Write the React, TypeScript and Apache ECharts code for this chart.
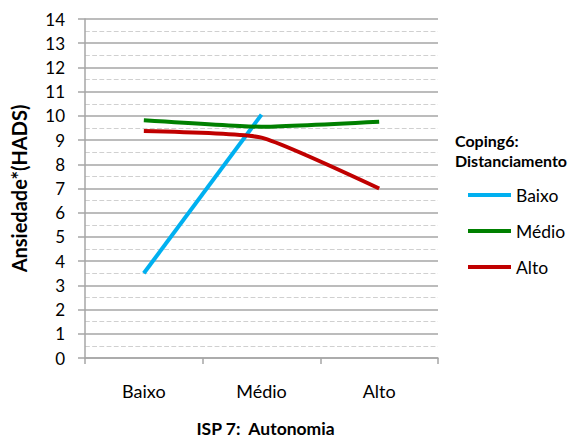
import React, { useEffect, useRef } from "react";
import * as echarts from "echarts";

const categories = ["Baixo", "Médio", "Alto"];
const seriesNames = ["Baixo", "Médio", "Alto"];
const baixoValues = [3.5, 10.05];
const medioValues = [9.82, 9.55, 9.76];
const altoValues = [9.37, 9.1, 7.0];
const seriesColors = ["#00B0F0", "#008000", "#C00000"];

const FONT = "Lato, 'Open Sans', sans-serif";

export default function App() {
  const ref = useRef<HTMLDivElement>(null);

  useEffect(() => {
    document.body.style.margin = "0";
    if (!ref.current) return;
    const chart = echarts.init(ref.current, undefined, { renderer: "svg" });
    const valueSets = [baixoValues, medioValues, altoValues];
    chart.setOption({
      animation: false,
      backgroundColor: "#ffffff",
      textStyle: { fontFamily: FONT },
      title: {
        text: "Coping6:\nDistanciamento",
        left: 455,
        top: 130,
        padding: 0,
        textStyle: {
          fontFamily: FONT,
          fontSize: 16,
          fontWeight: "bold",
          color: "#000",
          lineHeight: 20,
        },
      },
      legend: {
        orient: "vertical",
        left: 468,
        top: 186,
        padding: 0,
        icon: "rect",
        itemWidth: 43,
        itemHeight: 4,
        itemGap: 18,
        textStyle: { fontFamily: FONT, fontSize: 17.5, color: "#000" },
        data: seriesNames,
      },
      grid: { left: 85, right: 133, top: 19, bottom: 82 },
      xAxis: {
        type: "category",
        data: categories,
        boundaryGap: true,
        name: "ISP 7:  Autonomia",
        nameLocation: "middle",
        nameGap: 61,
        nameTextStyle: {
          fontFamily: FONT,
          fontSize: 17.5,
          fontWeight: "bold",
          color: "#000",
          padding: [0, 0, 0, 8],
        },
        axisLine: { lineStyle: { color: "#A6A6A6", width: 1.5 } },
        axisTick: { show: true, length: 6, lineStyle: { color: "#A6A6A6", width: 1.5 } },
        axisLabel: { fontFamily: FONT, fontSize: 18, color: "#000", margin: 24 },
      },
      yAxis: {
        type: "value",
        min: 0,
        max: 14,
        interval: 1,
        name: "Ansiedade*(HADS)",
        nameLocation: "middle",
        nameRotate: 90,
        nameGap: 56,
        nameTextStyle: { fontFamily: FONT, fontSize: 20, fontWeight: "bold", color: "#000" },
        axisLine: { show: true, lineStyle: { color: "#A6A6A6", width: 1.5 } },
        axisTick: { show: true, length: 7, lineStyle: { color: "#A6A6A6", width: 1.5 } },
        axisLabel: { fontFamily: FONT, fontSize: 17, color: "#000", margin: 20 },
        splitLine: { show: true, lineStyle: { color: "#A6A6A6", width: 1.5 } },
        minorTick: { show: false, splitNumber: 2 },
        minorSplitLine: { show: true, lineStyle: { color: "#D0D0D0", type: "dashed", width: 1.2 } },
      },
      series: seriesNames.map((name, i) => ({
        name,
        type: "line",
        data: valueSets[i],
        smooth: 0.15,
        symbol: "none",
        lineStyle: { color: seriesColors[i], width: 4 },
        itemStyle: { color: seriesColors[i] },
      })),
    });
    return () => chart.dispose();
  }, []);

  return <div ref={ref} style={{ width: 571, height: 442 }} />;
}
